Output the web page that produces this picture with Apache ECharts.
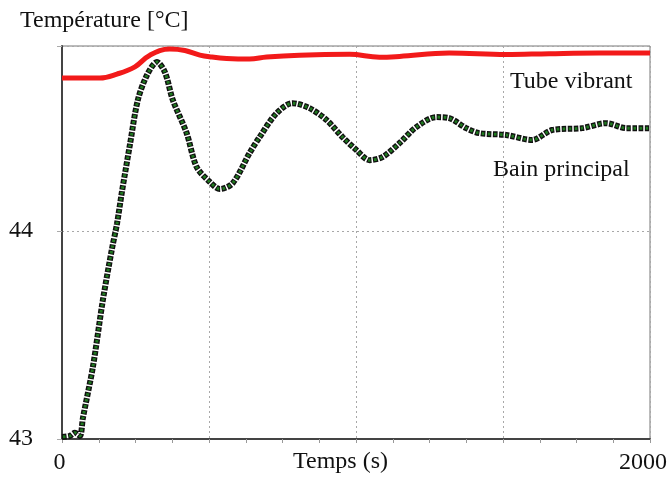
<!DOCTYPE html>
<html><head><meta charset="utf-8">
<script src="https://cdn.jsdelivr.net/npm/echarts@6/dist/echarts.min.js"></script>
<style>html,body{margin:0;padding:0;background:#fff}#c{width:670px;height:477px}</style>
</head><body><div id="c"></div>
<script>
// Tube vibrant (red) : [time s, temperature °C]
const tubeTime = [0, 60, 129, 187, 248, 299, 367, 418, 469, 509, 560, 638, 696, 808, 978, 1080, 1148, 1317, 1511, 1657, 1827, 2000];
const tubeTemp = [44.736, 44.736, 44.736, 44.755, 44.79, 44.846, 44.875, 44.868, 44.846, 44.837, 44.83, 44.827, 44.837, 44.846, 44.85, 44.836, 44.84, 44.856, 44.849, 44.853, 44.856, 44.856];
// Bain principal (green/black)
const bainTime = [0, 27, 44, 61, 71, 105, 139, 170, 187, 204, 231, 258, 289, 323, 350, 377, 424, 458, 503, 537, 581, 638, 672, 730, 784, 842, 900, 954, 1002, 1046, 1090, 1148, 1205, 1273, 1317, 1375, 1419, 1511, 1599, 1667, 1769, 1851, 1919, 2000];
const bainTemp = [43.01, 43.015, 43.03, 43.015, 43.10, 43.346, 43.668, 43.915, 44.035, 44.19, 44.415, 44.63, 44.75, 44.813, 44.764, 44.63, 44.471, 44.308, 44.236, 44.202, 44.231, 44.375, 44.452, 44.567, 44.615, 44.591, 44.534, 44.452, 44.389, 44.341, 44.356, 44.423, 44.5, 44.548, 44.543, 44.495, 44.471, 44.462, 44.438, 44.486, 44.495, 44.519, 44.495, 44.495];
const xTickLabels = ['0', '2000'];
const yTickLabels = ['43', '44'];
const yName = 'Température [°C]';
const xName = 'Temps (s)';
const tubeName = 'Tube vibrant';
const bainName = 'Bain principal';

const zip = (a, b) => a.map((v, i) => [v, b[i]]);
const FONT = 'Liberation Serif';
const chart = echarts.init(document.getElementById('c'));
chart.setOption({
  animation: false,
  backgroundColor: '#fff',
  grid: { left: 62, right: 19, top: 46, bottom: 38, show: true, borderColor: '#777', borderWidth: 1 },
  xAxis: {
    type: 'value', min: 0, max: 2000, interval: 500,
    axisLine: { show: true, lineStyle: { color: '#444', width: 2 } },
    axisTick: { show: true, length: 4, lineStyle: { color: '#999' } },
    minorTick: { show: true, splitNumber: 4, length: 4, lineStyle: { color: '#999' } },
    splitLine: { show: true, lineStyle: { color: '#a8a8a8', type: [2, 3], width: 1 } },
    axisLabel: {
      margin: 12, color: '#111', fontFamily: FONT, fontSize: 24,
      formatter: v => v === 0 ? '{a|' + xTickLabels[0] + '}' : (v === 2000 ? '{b|' + xTickLabels[1] + '}' : ''),
      rich: { a: { fontFamily: FONT, fontSize: 24, color: '#111', padding: [0, 5, 0, 0] },
              b: { fontFamily: FONT, fontSize: 24, color: '#111', padding: [0, 14, 0, 0] } }
    }
  },
  yAxis: {
    type: 'value', min: 43, max: 44.89, interval: 1,
    axisLine: { show: true, lineStyle: { color: '#444', width: 2 } },
    axisTick: { show: true, length: 5, lineStyle: { color: '#aaa' } },
    splitLine: { show: true, lineStyle: { color: '#a8a8a8', type: [2, 3], width: 1 } },
    axisLabel: {
      margin: 29, color: '#111', fontFamily: FONT, fontSize: 24,
      formatter: v => v === 43 ? yTickLabels[0] : (v === 44 ? yTickLabels[1] : '')
    }
  },
  graphic: [
    { type: 'text', left: 20, top: 9, style: { text: yName, font: '24px "Liberation Serif"', fill: '#111' } },
    { type: 'text', left: 293, top: 450, style: { text: xName, font: '24px "Liberation Serif"', fill: '#111' } },
    { type: 'text', left: 510, top: 70, style: { text: tubeName, font: '24px "Liberation Serif"', fill: '#111' } },
    { type: 'text', left: 493, top: 158, style: { text: bainName, font: '24px "Liberation Serif"', fill: '#111' } }
  ],
  series: [
    { type: 'line', data: zip(tubeTime, tubeTemp), smooth: 0.4, showSymbol: false,
      lineStyle: { color: '#f21a1a', width: 5 }, z: 3 },
    { type: 'line', data: zip(bainTime, bainTemp), smooth: 0.3, showSymbol: false,
      lineStyle: { color: '#111', width: 6, type: [4.5, 1.5] }, z: 4 },
    { type: 'line', data: zip(bainTime, bainTemp), smooth: 0.3, showSymbol: false,
      lineStyle: { color: '#1f7a1f', width: 3, type: [2.5, 3.5], dashOffset: -1 }, z: 5 }
  ]
});
</script></body></html>
